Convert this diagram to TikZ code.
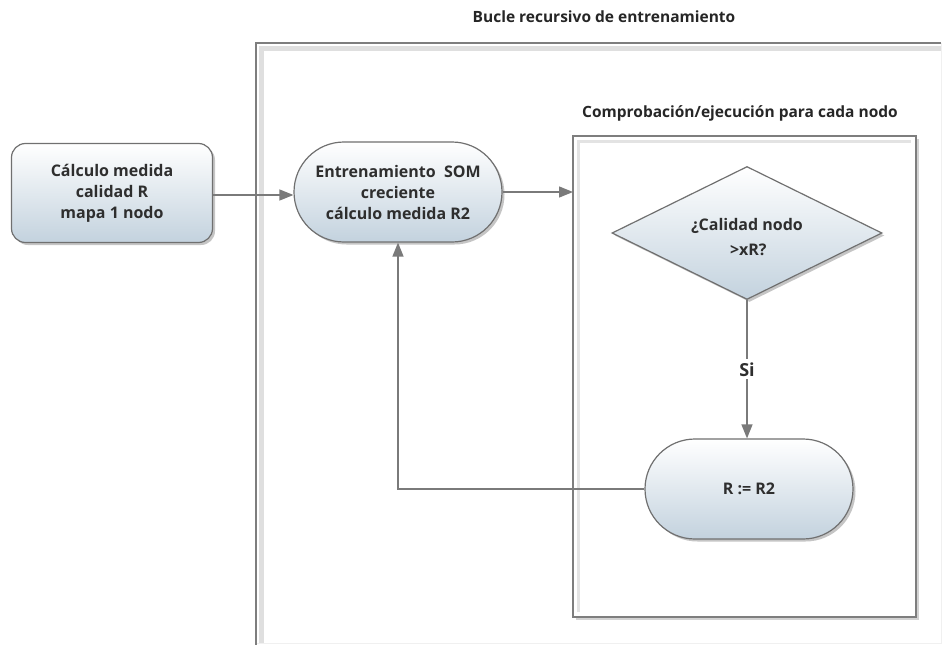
\documentclass[tikz,border=0pt]{standalone}
\usepackage{fontspec}
\setmainfont{Open Sans}
\usetikzlibrary{shapes.misc,shapes.geometric,arrows.meta,shadows}
\definecolor{edgegray}{HTML}{707070}
\definecolor{linegray}{HTML}{7A7A7A}
\definecolor{txtgray}{HTML}{2E2E2E}
\definecolor{fillbot}{HTML}{C3D2DE}
\tikzset{
  boxtext/.style={font=\bfseries\fontsize{16}{21}\selectfont, text=txtgray, align=center},
  shapebase/.style={boxtext, draw=edgegray, line width=1.2pt, top color=white, bottom color=fillbot,
    drop shadow={shadow xshift=2.5pt, shadow yshift=-2.5pt, opacity=0.45}},
  procbox/.style={shapebase, rectangle, rounded corners=14pt, minimum width=201pt, minimum height=99pt},
  termbox/.style={shapebase, rounded rectangle, minimum width=208pt, minimum height=100pt, inner sep=0pt},
  decbox/.style={shapebase, diamond, minimum width=270pt, minimum height=133pt, inner sep=0pt},
  conn/.style={draw=linegray, line width=1.3pt},
  arr/.style={conn, -{Triangle[length=14pt, width=11pt]}},
  title/.style={font=\bfseries\fontsize{15.5}{18}\selectfont, text=black!85},
  framebox/.style={draw=edgegray!90, line width=1.4pt, fill=white},
}
\begin{document}
\begin{tikzpicture}[x=1pt, y=-1pt]
  \useasboundingbox (0,0) rectangle (943,645);
  \fill[white] (0,0) rectangle (943,645);

  % outer loop frame
  \draw[gray!12, line width=1pt] (941,43) -- (941,643) -- (256,643);
  \draw[gray!25, line width=5pt] (261,643) -- (261,48) -- (941,48);
  \draw[edgegray!90, line width=1.5pt] (256,645) -- (256,43) -- (941,43);
  \node[title] (looptitle) at (604,17) {Bucle recursivo de entrenamiento};

  % inner per-node frame
  \draw[framebox, drop shadow={shadow xshift=3pt, shadow yshift=-3pt, opacity=0.35}] (573,136) rectangle (916,617);
  \draw[gray!22, line width=3pt] (578,612) -- (578,141) -- (911,141);
  \node[title] (nodetitle) at (740,113) {Comprobación/ejecución para cada nodo};
  \coordinate (framein) at (573,192);

  % nodes
  \node[procbox] (calc) at (112,193) {Cálculo medida\\calidad R\\mapa 1 nodo};
  \node[termbox] (train) at (398,192) {Entrenamiento\ \ SOM\\creciente\\cálculo medida R2};
  \node[decbox] (check) at (747,233) {};
  \node[boxtext] (checktext) at ([yshift=-4pt]check.center) {¿Calidad nodo\\[4pt]\,>xR?};
  \node[termbox] (upd) at (749,489) {R := R2};
  \coordinate (bend) at (398,489);

  % connectors
  \draw[arr] (calc.east |- 0,195) -- (train.west |- 0,195);
  \draw[arr] (train.east) -- (framein);
  \draw[arr] (check.south) -- node[fill=white, boxtext, font=\bfseries\fontsize{18}{20}\selectfont, inner sep=3pt] (si) {Si} (upd.north -| check.south);
  \draw[arr] (upd.west) -- (bend) -- (train.south);
\end{tikzpicture}
\end{document}
